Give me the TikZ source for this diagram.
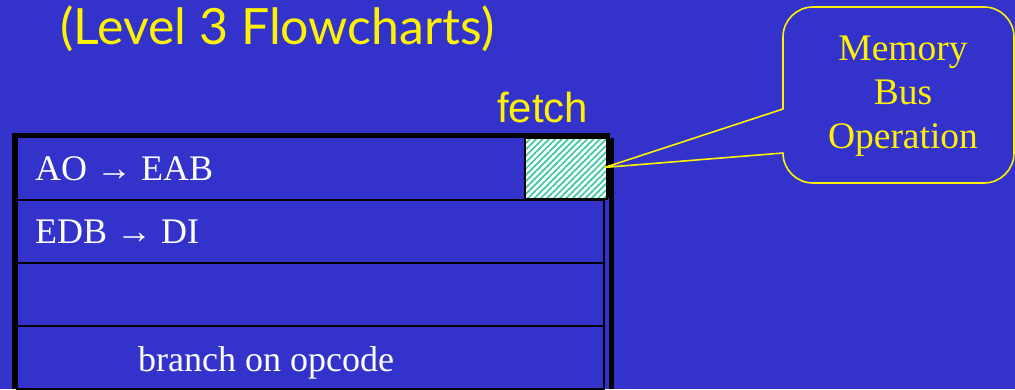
\documentclass[tikz,border=0pt]{standalone}
\usepackage{fontspec}
\setmainfont{Liberation Serif}
\newfontfamily\headfont{Lato}
\newfontfamily\labelfont{Liberation Sans}
\usetikzlibrary{patterns.meta}
\usetikzlibrary{positioning}
\definecolor{slideblue}{HTML}{3333CC}
\definecolor{hatchgreen}{HTML}{3CC8A0}
\tikzset{row/.style = {draw=black, line width=1.5pt, fill=slideblue, minimum width=587pt, minimum height=63pt, inner sep=0, outer sep=0}}
\tikzset{rowtext/.style = {text=white, font=\fontsize{36}{40}\selectfont, anchor=base west, inner sep=0}}
\tikzset{callout/.style = {draw=yellow, line width=1.6pt, line join=round}}

\begin{document}
\begin{tikzpicture}[x=1pt,y=-1pt]
        \fill [slideblue] (0,0) rectangle (1015,389);
        \useasboundingbox (0,0) rectangle (1015,389);
        \node [text=yellow, font=\headfont\fontsize{50}{54}\selectfont, anchor=base west, inner sep=0] (title) at (60,44) {(Level 3 Flowcharts)};
        % rows of the flowchart
        \node [row, anchor=north west] (row1) at (17,137) {};
        \node [row, below=0pt of row1] (row2) {};
        \node [row, below=0pt of row2] (row3) {};
        \node [row, below=0pt of row3] (row4) {};
        \fill [black] (12,133) rectangle (17,389);
        \fill [black] (12,133) rectangle (610,138);
        \fill [black] (609,138) rectangle (614,389);
        \node [draw=black, line width=1.5pt, preaction={fill=white}, pattern={Lines[angle=45, distance=4.5pt, line width=1.7pt]}, pattern color=hatchgreen, minimum width=82pt, minimum height=61pt, inner sep=0, anchor=north east] (fetch) at (608,137) {};
        \fill [black] (606,137) rectangle (610,198);
        \node [text=yellow, font=\labelfont\fontsize{42}{46}\selectfont, anchor=base west, inner sep=0] (fetchlbl) at (497,122) {fetch};
        \node [rowtext] (ao) at (35,180) {AO → EAB};
        \node [rowtext] (edb) at (35,243) {EDB → DI};
        \node [rowtext] (branch) at (138,371) {branch on opcode};
        % callout
        \coordinate (tip) at ([xshift=-3pt,yshift=1pt]fetch.east);
        \draw [callout] (tip) -- (783,109) -- (783,37) arc [start angle=180, end angle=270, radius=30]
            -- (984,7) arc [start angle=270, end angle=360, radius=30]
            -- (1014,153) arc [start angle=0, end angle=90, radius=30]
            -- (813,183) arc [start angle=90, end angle=180, radius=30] -- cycle;
        \node [text=yellow, align=center, font=\fontsize{37.5}{44}\selectfont, inner sep=0] (memop) at (903,96) {Memory\\Bus\\Operation};
    \end{tikzpicture}
\end{document}
